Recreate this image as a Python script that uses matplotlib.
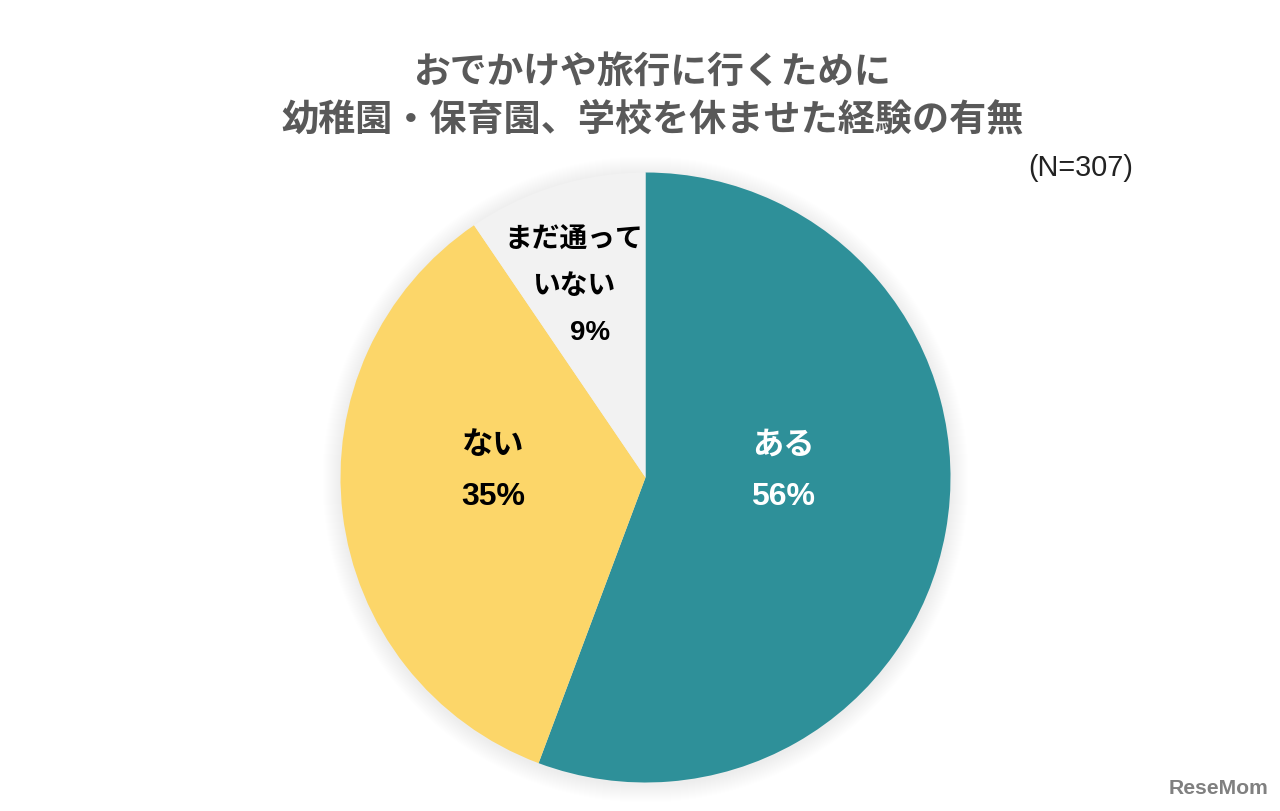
import matplotlib
matplotlib.use('Agg')
import matplotlib.pyplot as plt
from matplotlib.patches import Circle

plt.rcParams['font.family'] = ['Noto Sans CJK JP', 'DejaVu Sans']

title_lines = ['おでかけや旅行に行くために', '幼稚園・保育園、学校を休ませた経験の有無']
categories = ['ある', 'ない', 'まだ通って\nいない']
values = [55.7, 34.8, 9.5]
pct_labels = ['56%', '35%', '9%']
colors = ['#2E9099', '#FCD669', '#F2F2F2']
text_colors = ['white', 'black', 'black']
note = '(N=307)'
brand = 'ReseMom'

W, H = 1280, 811
fig = plt.figure(figsize=(W/100, H/100), dpi=100)
cx, cy, r = 645.5, 477.5, 305
ax = fig.add_axes([(cx-r)/W, 1-(cy+r)/H, 2*r/W, 2*r/H])

# soft drop shadow around the pie
for i in range(18, 0, -1):
    ax.add_patch(Circle((0, -2/r), 1 + i/r, facecolor='black', edgecolor='none',
                        alpha=0.0045, clip_on=False, zorder=0))

ax.pie(values, colors=colors, startangle=90, counterclock=False, radius=1,
       wedgeprops=dict(linewidth=0, zorder=2))
ax.set_xlim(-1, 1); ax.set_ylim(-1, 1)
ax.set_aspect('equal')

def T(x, y, s, **k):
    fig.text(x/W, 1-y/H, s, ha=k.pop('ha', 'center'), va='center', **k)

T(652, 72, title_lines[0], fontsize=26.5, fontweight='bold', color='#595959')
T(653, 120, title_lines[1], fontsize=26.7, fontweight='bold', color='#595959')
T(1081, 168, note, fontsize=20.8, color='#222222', family='Liberation Sans')

T(783, 445, categories[0], fontsize=22.5, fontweight='bold', color=text_colors[0])
T(783, 497, pct_labels[0], fontsize=23, fontweight='bold', color=text_colors[0], family='Liberation Sans')
T(493, 445, categories[1], fontsize=22.5, fontweight='bold', color=text_colors[1])
T(493, 497, pct_labels[1], fontsize=23, fontweight='bold', color=text_colors[1], family='Liberation Sans')
c3 = categories[2].split('\n')
T(574, 240, c3[0], fontsize=20, fontweight='bold', color=text_colors[2])
T(574, 286, c3[1], fontsize=20, fontweight='bold', color=text_colors[2])
T(590, 333, pct_labels[2], fontsize=20, fontweight='bold', color=text_colors[2], family='Liberation Sans')

T(1219, 788, brand, fontsize=15.2, fontweight='bold', color='#808080', family='Liberation Sans')
fig.savefig('out.png', dpi=100, facecolor='white')
